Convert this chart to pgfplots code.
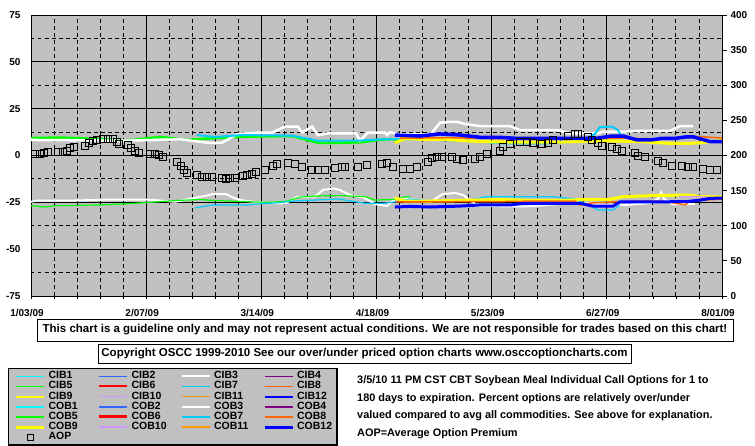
\documentclass[border=0pt]{standalone}
\usepackage{fontspec}
\setmainfont{Liberation Sans}
\usepackage{pgfplots}
\pgfplotsset{compat=1.18}

\definecolor{bg}{RGB}{192,192,192}
\definecolor{cyanA}{RGB}{0,255,255}
\definecolor{blueB}{RGB}{51,102,255}
\definecolor{purpleP}{RGB}{128,0,128}
\definecolor{greenG}{RGB}{0,255,0}
\definecolor{redR}{RGB}{255,0,0}
\definecolor{skyS}{RGB}{0,204,255}
\definecolor{orangeO}{RGB}{255,102,0}
\definecolor{yellowY}{RGB}{255,255,0}
\definecolor{lavL}{RGB}{204,153,255}
\definecolor{orangeP}{RGB}{255,153,0}
\definecolor{blueZ}{RGB}{0,0,255}

% legend entry: colour, line width, box width, name
\newcommand{\lgd}[4]{\addlegendimage{draw=#1, line width=#2}\addlegendentry{\makebox[#3][l]{#4}}}

\begin{document}
\begin{tikzpicture}[x=1pt,y=1pt]
\fill[white] (0,0) rectangle (755,446);
\path[use as bounding box] (0,0) rectangle (755,446);

\begin{axis}[
  at={(31pt,150pt)}, anchor=south west, scale only axis,
  width=691pt, height=281pt,
  xmin=0, xmax=210, ymin=-75, ymax=75,
  axis background/.style={fill=bg},
  axis line style={black, line width=0.9pt},
  xtick={0,35,70,105,140,175,210},
  xticklabels={1/03/09,2/07/09,3/14/09,4/18/09,5/23/09,6/27/09,8/01/09},
  minor xtick={7,14,...,203},
  ytick={-75,-50,...,75},
  minor ytick={-62.5,-37.5,-12.5,12.5,37.5,62.5},
  grid=both,
  major grid style={black, line width=0.9pt},
  minor grid style={black, line width=0.9pt, dash pattern=on 3.5pt off 3.5pt},
  tick align=outside, xtick pos=bottom, ytick pos=left,
  major tick length=3pt, minor tick length=3pt,
  xtick style={black, line width=0.8pt},
  ytick style={draw=none},
  /pgf/number format/assume math mode=true,
  ticklabel style={font=\bfseries\fontsize{10}{10}\selectfont},
  xticklabel style={yshift=-6.5pt, xshift=-4pt},
  yticklabel style={xshift=-4pt},
  legend columns=4,
  legend cell align=left,
  legend image code/.code={\draw[#1] (0pt,0pt) -- (28pt,0pt);},
  legend style={at={(-0.0333,-0.2562)}, anchor=north west,
    fill=bg, draw=black, line width=1.2pt,
    font=\bfseries\fontsize{10.5}{10}\selectfont,
    inner xsep=6pt, inner ysep=2.5pt, row sep=0pt,
    nodes={inner sep=0pt, text height=7.6pt, text depth=2.6pt},
    /tikz/every odd column/.append style={column sep=3pt}},
]
% ---- upper band ----
\addplot[forget plot, greenG, line width=2.5pt] coordinates {
(0,9.3) (8.8,9.6) (21.0,8.8) (28.6,7.9) (39.2,9.9) (47.4,8.3) (51.4,8.8)
(64.1,10.0) (79.3,10.4) (87.2,6.8) (94.5,6.8) (100.9,7.1) (105.5,8.3)
(110.0,8.8) (112.1,7.4)};
\addplot[forget plot, white, line width=2.5pt] coordinates {
(0,8.3) (28.6,7.9) (45.3,8.65) (53.8,6.8) (58.0,6.8) (62.9,11.5) (69.0,12.2)
(73.2,12.2) (77.2,15.4) (81.1,15.4) (82.4,12.2) (85.4,15.4) (87.2,10.9)
(90.3,11.8) (98.8,11.8) (100.0,7.9) (102.4,12.2) (107.6,12.2) (108.2,10.9)
(109.1,12.4) (112.1,11.3) (118.2,11.3) (121.3,10.9) (124.3,17.5) (127.3,18.0)
(129.5,18.0) (131.9,16.8) (136.5,15.7) (145.6,15.7) (148.6,13.6) (159.9,13.6)
(163.8,11.8) (172.0,11.8) (173.8,12.7) (179.9,12.7) (184.2,13.1) (194.2,13.1)
(197.2,15.7) (201.2,15.7)};
\addplot[forget plot, skyS, line width=2pt] coordinates {
(50.4,10.9) (55.9,9.9) (64.1,10.9) (79.3,10.6) (87.2,7.9) (99.4,7.9)
(105.5,8.6) (112.1,8.8) (124.3,8.3) (136.5,7.4) (142.5,6.5) (156.8,6.5)
(166.8,7.4) (171.4,11.5) (172.9,15.2) (176.6,15.4) (178.4,13.5) (179.6,9.7)};
\addplot[forget plot, yellowY, line width=3pt] coordinates {
(110.6,6.8) (113.7,9.0) (118.2,8.65) (124.3,8.65) (136.5,7.4) (148.6,7.1)
(160.8,7.1) (172.9,7.9) (185.1,7.4) (194.0,6.5) (200.3,6.5) (203.3,6.8)
(207.0,7.5) (210.0,7.9)};
\addplot[forget plot, orangeO, line width=1.5pt] coordinates {
(112.1,9.2) (127.3,9.5) (142.5,9.0) (160.8,8.8) (179.0,9.3) (191.0,8.8)
(203.3,10.1) (210.0,9.3)};
\addplot[forget plot, blueZ, line width=3.5pt] coordinates {
(110.6,10.9) (118.2,10.4) (124.3,11.5) (130.0,11.0) (136.5,9.7) (142.5,9.7)
(147.0,9.2) (172.0,9.2) (176.6,10.4) (179.9,10.4) (184.2,8.3) (188.4,8.3)
(192.0,9.2) (196.0,9.2) (199.4,10.0) (201.2,10.0) (206.4,7.4) (210.0,7.4)};
% ---- lower band ----
\addplot[forget plot, white, line width=2pt] coordinates {
(0,-24.7) (1.8,-24.1) (11.9,-24.1) (22.5,-23.6) (36.2,-23.6) (43.8,-24.7)
(48.3,-23.1) (52.9,-21.6) (55.3,-20.6) (59.3,-20.6) (61.1,-22.2) (63.5,-23.8)
(68.1,-24.8) (72.6,-25.4) (77.2,-25.6) (80.8,-22.2) (86.3,-21.9) (88.7,-18.4)
(91.8,-17.6) (93.9,-18.4) (96.9,-21.1) (100.9,-22.2) (104.5,-25.9) (108.2,-27.0)
(110.6,-23.2) (113.7,-22.7) (117.3,-23.8) (121.3,-24.8) (125.2,-20.6)
(128.9,-20.0) (131.3,-21.1) (133.4,-23.8) (135.9,-27.0) (150.4,-27.2)
(160.8,-25.9) (169.9,-25.4) (174.4,-26.4) (180.5,-26.4) (188.1,-25.4)
(190.5,-23.2) (191.5,-19.5) (192.4,-23.2) (194.8,-25.9) (201.8,-25.9)};
\addplot[forget plot, greenG, line width=1.2pt] coordinates {
(0,-26.8) (2.7,-27.2) (4.3,-27.5) (7.3,-26.8) (21.0,-26.4) (30.7,-25.6)
(36.2,-25.0) (44.4,-24.0) (51.4,-23.5) (55.3,-24.0) (66.3,-24.7) (71.7,-25.0)
(77.2,-24.6) (81.8,-22.2) (86.9,-21.6) (93.9,-21.4) (101.5,-21.9) (104.5,-23.8)
(110.6,-23.4) (113.7,-22.2) (115.2,-21.9)};
\addplot[forget plot, skyS, line width=1.2pt] coordinates {
(49.8,-28.0) (55.3,-26.4) (66.3,-26.4) (70.2,-25.6) (74.2,-25.4) (79.6,-24.3)
(86.3,-23.8) (93.3,-23.2) (101.5,-25.5) (107.0,-25.5) (110.6,-24.8)
(115.2,-23.2) (121.3,-24.3) (133.4,-23.8) (138.3,-22.0) (148.6,-22.0)
(158.6,-22.0) (165.3,-23.2) (169.9,-26.8) (172.3,-29.1) (176.9,-29.1)
(179.0,-26.4)};
\addplot[forget plot, yellowY, line width=3pt] coordinates {
(110.6,-22.7) (113.7,-24.3) (121.3,-24.3) (134.0,-23.8) (142.5,-23.5)
(151.7,-24.0) (161.7,-24.0) (169.0,-23.4) (176.0,-23.4) (179.9,-22.0)
(189.0,-21.4) (200.3,-21.1) (203.3,-21.9) (210.0,-22.2)};
\addplot[forget plot, orangeO, line width=1.5pt] coordinates {
(110.9,-24.7) (118.2,-24.7) (127.3,-24.7) (142.5,-24.6) (154.7,-24.3)
(165.3,-24.3) (166.8,-26.4) (169.9,-25.4) (179.0,-24.6) (185.1,-24.3)
(191.2,-24.3) (195.7,-25.4) (198.8,-26.4) (200.3,-24.3) (210.0,-23.2)};
\addplot[forget plot, lavL, line width=1.5pt] coordinates {
(197.0,-22.0) (203.0,-22.0) (210.0,-23.0)};
\addplot[forget plot, blueZ, line width=3pt] coordinates {
(110.6,-27.5) (115.2,-27.2) (121.3,-27.5) (130.4,-27.0) (136.5,-26.4)
(145.6,-26.4) (149.5,-25.6) (160.8,-25.6) (166.8,-25.5) (170.8,-27.0)
(176.9,-27.0) (179.0,-24.8) (188.1,-24.8) (199.4,-24.6) (203.3,-23.8)
(206.4,-22.9) (210.0,-22.7)};
% ---- legend ----
\lgd{cyanA}{1.2pt}{49pt}{CIB1}
\lgd{blueB}{1.2pt}{49pt}{CIB2}
\lgd{white}{2pt}{49pt}{CIB3}
\lgd{purpleP}{1.2pt}{34pt}{CIB4}
\lgd{greenG}{1.2pt}{49pt}{CIB5}
\lgd{redR}{2pt}{49pt}{CIB6}
\lgd{skyS}{1.2pt}{49pt}{CIB7}
\lgd{orangeO}{1.2pt}{34pt}{CIB8}
\lgd{yellowY}{2pt}{49pt}{CIB9}
\lgd{lavL}{1.2pt}{49pt}{CIB10}
\lgd{orangeP}{1.5pt}{49pt}{CIB11}
\lgd{blueZ}{2pt}{34pt}{CIB12}
\lgd{cyanA}{2pt}{49pt}{COB1}
\lgd{blueB}{2pt}{49pt}{COB2}
\lgd{white}{2.5pt}{49pt}{COB3}
\lgd{purpleP}{2pt}{34pt}{COB4}
\lgd{greenG}{2pt}{49pt}{COB5}
\lgd{redR}{3pt}{49pt}{COB6}
\lgd{skyS}{2pt}{49pt}{COB7}
\lgd{orangeO}{2pt}{34pt}{COB8}
\lgd{yellowY}{3pt}{49pt}{COB9}
\lgd{lavL}{2pt}{49pt}{COB10}
\lgd{orangeP}{2pt}{49pt}{COB11}
\lgd{blueZ}{3pt}{34pt}{COB12}
\addlegendimage{legend image code/.code={\draw[black, line width=0.9pt] (11pt,-3pt) rectangle (17pt,3pt);}}
\addlegendentry{\makebox[49pt][l]{AOP}}
\end{axis}

\begin{axis}[
  at={(31pt,150pt)}, anchor=south west, scale only axis,
  width=691pt, height=281pt,
  xmin=0, xmax=210, ymin=0, ymax=400,
  axis x line=none, axis y line*=right,
  axis line style={black, line width=0.9pt},
  ytick={0,50,...,400},
  tick align=outside, major tick length=5pt,
  ytick style={black, line width=0.8pt},
  /pgf/number format/assume math mode=true,
  ticklabel style={font=\bfseries\fontsize{10}{10}\selectfont},
]
\addplot[only marks, mark=square, mark size=3.4pt, black, line width=0.9pt] coordinates {
(1.2,202.1) (2.7,202.1) (4.0,203.6) (5.2,205.0) (8.2,205.0) (9.7,205.0)
(10.9,206.4) (11.9,210.7) (13.1,212.1) (16.4,213.5) (17.6,217.8) (18.8,220.6)
(20.1,222.1) (21.9,223.5) (23.4,223.5) (24.9,223.5) (26.1,219.2) (26.7,216.4)
(29.5,214.9) (30.4,210.7) (31.6,206.4) (32.8,203.6) (36.2,202.1) (37.7,202.1)
(38.9,200.7) (40.1,197.9) (44.4,190.7) (45.6,185.1) (46.5,179.4) (47.4,175.1)
(50.4,172.2) (52.0,169.4) (53.5,169.4) (55.0,169.4) (58.0,168.0) (59.3,166.5)
(60.5,168.0) (62.0,168.0) (64.4,170.8) (65.6,172.2) (67.2,173.7) (68.4,176.5)
(71.1,179.4) (73.5,185.1) (74.8,187.9) (78.1,189.3) (80.2,187.9) (82.4,183.6)
(85.4,179.4) (87.2,179.4) (89.4,179.4) (92.4,182.2) (94.5,183.6) (95.4,183.6)
(99.4,183.6) (102.1,186.5) (106.7,187.9) (108.2,189.3) (110.0,183.6)
(113.1,180.8) (115.2,180.8) (117.3,183.6) (120.7,190.7) (121.9,196.4)
(123.4,197.9) (124.9,197.9) (127.9,197.9) (129.5,195.0) (131.3,193.6)
(134.9,195.0) (136.5,197.9) (138.6,202.1) (142.5,206.4) (143.4,212.1)
(145.6,216.4) (148.6,219.2) (150.7,219.2) (152.6,217.8) (155.3,216.4)
(157.1,217.8) (158.6,222.1) (163.2,227.8) (165.3,230.6) (166.2,230.6)
(169.3,226.3) (170.5,222.1) (172.3,217.8) (173.5,213.5) (176.6,212.1)
(178.1,209.3) (179.6,206.4) (183.6,203.6) (184.5,199.3) (186.6,197.9)
(190.5,192.2) (192.1,189.3) (194.8,185.1) (197.8,185.1) (199.7,183.6)
(201.2,183.6) (204.2,180.8) (206.4,179.4) (208.5,179.4)};
\end{axis}

\node[draw=black, line width=0.9pt, fill=white, minimum width=696pt, minimum height=22pt,
  inner sep=0pt, font=\bfseries\fontsize{11.5}{12}\selectfont] at (385pt,116pt)
  {This chart is a guideline only and may not represent actual conditions. We are not responsible for trades based on this chart!};
\node[draw=black, line width=0.9pt, fill=white, minimum width=533pt, minimum height=19pt,
  inner sep=0pt, font=\bfseries\fontsize{11.5}{12}\selectfont] at (364.5pt,92.5pt)
  {Copyright OSCC 1999-2010 See our over/under priced option charts www.osccoptioncharts.com};
\node[anchor=north west, align=left, inner sep=0pt,
  font=\bfseries\fontsize{10.9}{17.5}\selectfont] at (357pt,70.5pt)
  {3/5/10 11 PM CST CBT Soybean Meal Individual Call Options for 1 to\\
   180 days to expiration. Percent options are relatively over/under\\
   valued compared to avg all commodities. See above for explanation.\\
   AOP=Average Option Premium};
\end{tikzpicture}
\end{document}
